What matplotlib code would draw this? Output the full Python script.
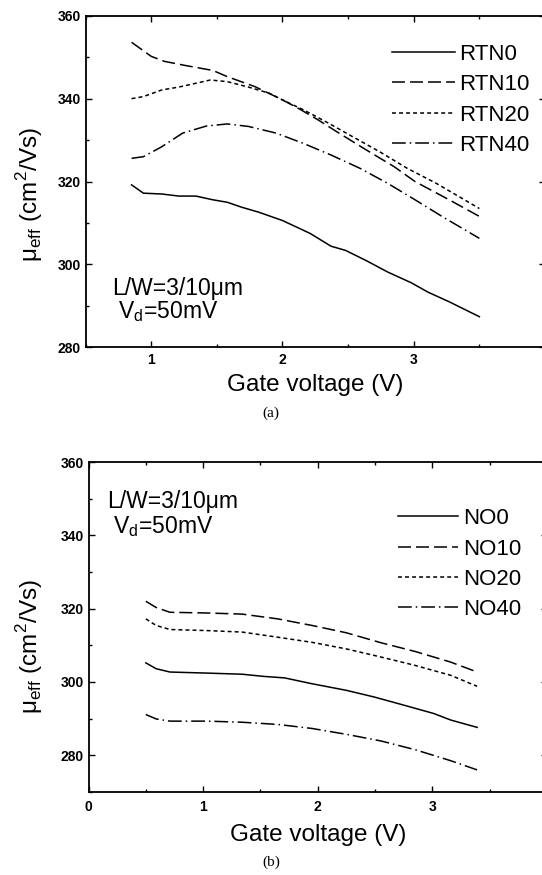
import matplotlib
matplotlib.use('Agg')
import matplotlib.pyplot as plt
from matplotlib.ticker import MultipleLocator, FixedLocator

plt.rcParams['font.family'] = ['Liberation Sans', 'DejaVu Sans']
plt.rcParams['mathtext.fontset'] = 'custom'
plt.rcParams['mathtext.rm'] = 'Liberation Sans'

# (a) RTN samples
rtn0_x = [0.85, 0.94, 1.08, 1.21, 1.34, 1.47, 1.58, 1.69, 1.82, 2.0, 2.21, 2.37, 2.48, 2.64, 2.80, 2.98, 3.11, 3.27, 3.50]
rtn0_y = [319.2, 317.2, 317.0, 316.5, 316.5, 315.6, 315.0, 313.8, 312.6, 310.6, 307.5, 304.4, 303.4, 300.9, 298.2, 295.6, 293.3, 291.0, 287.4]
rtn10_x = [0.85, 1.0, 1.10, 1.26, 1.47, 1.58, 1.79, 2.0, 2.13, 2.27, 2.43, 2.64, 2.85, 3.01, 3.27, 3.50]
rtn10_y = [353.6, 350.2, 349.0, 348.0, 346.8, 345.3, 342.9, 339.7, 337.5, 334.9, 331.7, 327.6, 323.6, 320.0, 315.6, 311.6]
rtn20_x = [0.85, 0.94, 1.08, 1.21, 1.31, 1.45, 1.58, 1.74, 1.90, 2.0, 2.16, 2.35, 2.53, 2.74, 2.95, 3.17, 3.50]
rtn20_y = [340.0, 340.5, 342.1, 342.8, 343.5, 344.5, 344.1, 342.8, 341.3, 339.7, 337.3, 334.1, 330.9, 327.2, 323.2, 319.6, 313.5]
rtn40_x = [0.85, 0.94, 1.08, 1.24, 1.42, 1.58, 1.74, 1.95, 2.16, 2.37, 2.59, 2.80, 3.01, 3.22, 3.50]
rtn40_y = [325.6, 326.0, 328.4, 331.7, 333.4, 333.9, 333.3, 331.7, 329.2, 326.4, 323.2, 319.6, 315.6, 311.5, 306.3]

# (b) NO samples
no0_x = [0.50, 0.59, 0.71, 1.04, 1.34, 1.53, 1.71, 1.95, 2.25, 2.49, 2.70, 3.01, 3.16, 3.39]
no0_y = [305.2, 303.6, 302.7, 302.4, 302.1, 301.5, 301.1, 299.5, 297.7, 295.9, 294.1, 291.4, 289.6, 287.6]
no_x = [0.50, 0.59, 0.71, 1.04, 1.34, 1.65, 1.95, 2.25, 2.55, 2.85, 3.16, 3.39]
no10_y = [322.0, 320.3, 319.0, 318.8, 318.5, 317.2, 315.4, 313.4, 310.7, 308.3, 305.4, 302.7]
no20_y = [317.2, 315.4, 314.3, 314.0, 313.6, 312.2, 310.8, 309.0, 306.8, 304.5, 301.8, 298.8]
no40_y = [291.1, 289.9, 289.3, 289.3, 289.0, 288.4, 287.3, 285.7, 283.9, 281.5, 278.5, 276.0]

rtn_labels = ['RTN0', 'RTN10', 'RTN20', 'RTN40']
no_labels = ['NO0', 'NO10', 'NO20', 'NO40']
xticks_a = [1, 2, 3]
xticks_b = [0, 1, 2, 3]

styles = [dict(linestyle='-'),
          dict(dashes=(8.5, 3.3)),
          dict(dashes=(2.6, 2.0)),
          dict(dashes=(9.0, 2.6, 1.0, 2.6))]

ylab = 'μ$_{\\mathregular{eff}}$ (cm$^{\\mathregular{2}}$/Vs)'
note = 'L/W=3/10μm\n V$_{\\mathregular{d}}$=50mV'

fig = plt.figure(figsize=(5.42, 8.75), dpi=100)


def style_axes(ax, xticks, xpad):
    ax.tick_params(which='both', direction='in', top=True, right=True, labelsize=10)
    ax.tick_params(axis='x', pad=xpad)
    ax.tick_params(which='major', length=4, width=1.0)
    ax.tick_params(which='minor', length=2.5, width=1.0)
    for lbl in ax.get_xticklabels() + ax.get_yticklabels():
        lbl.set_fontweight('bold')
    for s in ax.spines.values():
        s.set_linewidth(1.3)
    ax.yaxis.set_major_locator(MultipleLocator(20))
    ax.yaxis.set_minor_locator(MultipleLocator(10))
    ax.xaxis.set_major_locator(FixedLocator(xticks))
    ax.xaxis.set_minor_locator(MultipleLocator(0.5))
    ax.set_xlabel('Gate voltage (V)', fontsize=17.5, labelpad=5)
    ax.set_ylabel(ylab, fontsize=17.5, labelpad=5)


# panel (a)
ax1 = fig.add_axes([0.158, 0.603, 0.8475, 0.379])
series_a = [(rtn0_x, rtn0_y), (rtn10_x, rtn10_y), (rtn20_x, rtn20_y), (rtn40_x, rtn40_y)]
for (xs, ys), lab, st in zip(series_a, rtn_labels, styles):
    ax1.plot(xs, ys, color='black', lw=1.1, label=lab, **st)
ax1.set_xlim(0.5, 4.0)
ax1.set_ylim(280, 360)
style_axes(ax1, xticks_a, 4)
ax1.yaxis.set_label_coords(-0.088, 0.46)
ax1.legend(loc='upper left', bbox_to_anchor=(0.668, 0.915), frameon=False, fontsize=16,
           handlelength=2.8, handletextpad=0.2, labelspacing=0.42, borderpad=0, borderaxespad=0)
ax1.text(0.058, 0.14, note, transform=ax1.transAxes, fontsize=16.5, va='center', linespacing=0.95)
fig.text(0.5, 1 - 413 / 875, '(a)', fontsize=11, family='Liberation Serif', ha='center', va='center')

# panel (b)
ax2 = fig.add_axes([0.1633, 0.095, 0.846, 0.377])
series_b = [(no0_x, no0_y), (no_x, no10_y), (no_x, no20_y), (no_x, no40_y)]
for (xs, ys), lab, st in zip(series_b, no_labels, styles):
    ax2.plot(xs, ys, color='black', lw=1.1, label=lab, **st)
ax2.set_xlim(0, 4.0)
ax2.set_ylim(270, 360)
style_axes(ax2, xticks_b, 6)
ax2.xaxis.labelpad = 7
ax2.yaxis.set_label_coords(-0.094, 0.44)
ax2.legend(loc='upper left', bbox_to_anchor=(0.675, 0.86), frameon=False, fontsize=16,
           handlelength=2.7, handletextpad=0.25, labelspacing=0.42, borderpad=0, borderaxespad=0)
ax2.text(0.04, 0.84, note, transform=ax2.transAxes, fontsize=16.5, va='center', linespacing=1.05)
fig.text(0.5, 1 - 862 / 875, '(b)', fontsize=11, family='Liberation Serif', ha='center', va='center')

fig.savefig('out.png', dpi=100)
